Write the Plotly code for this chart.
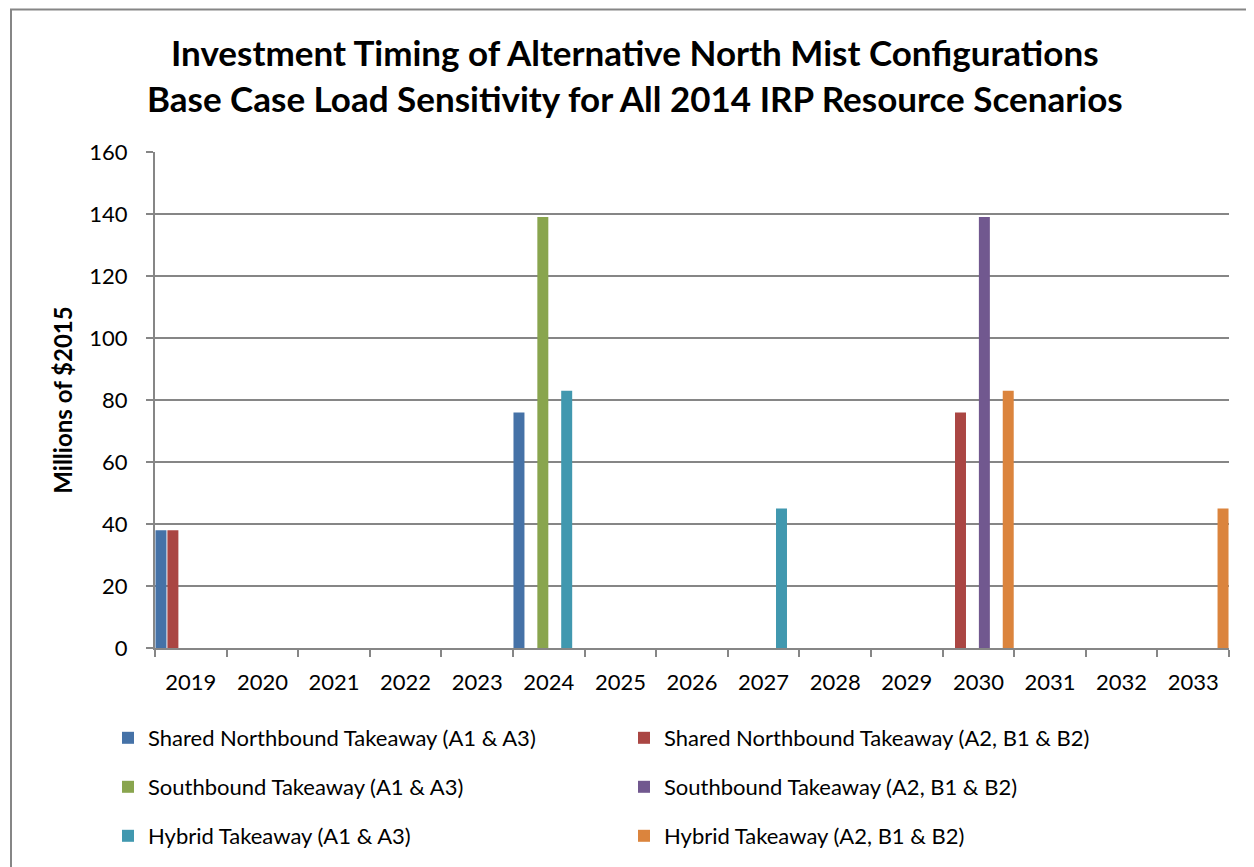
import plotly.graph_objects as go

years = [str(y) for y in range(2019, 2034)]
series_names = [
    "Shared Northbound Takeaway (A1 & A3)",
    "Shared Northbound Takeaway (A2, B1 & B2)",
    "Southbound Takeaway (A1 & A3)",
    "Southbound Takeaway (A2, B1 & B2)",
    "Hybrid Takeaway (A1 & A3)",
    "Hybrid Takeaway (A2, B1 & B2)",
]
shared_nb_a1 = [38, 0, 0, 0, 0, 76, 0, 0, 0, 0, 0, 0, 0, 0, 0]
shared_nb_a2 = [38, 0, 0, 0, 0, 0, 0, 0, 0, 0, 0, 76, 0, 0, 0]
south_a1 = [0, 0, 0, 0, 0, 139, 0, 0, 0, 0, 0, 0, 0, 0, 0]
south_a2 = [0, 0, 0, 0, 0, 0, 0, 0, 0, 0, 0, 139, 0, 0, 0]
hybrid_a1 = [0, 0, 0, 0, 0, 83, 0, 0, 45, 0, 0, 0, 0, 0, 0]
hybrid_a2 = [0, 0, 0, 0, 0, 0, 0, 0, 0, 0, 0, 83, 0, 0, 45]
colors = ["#4572A7", "#AA4643", "#89A54E", "#71588F", "#4198AF", "#DB843D"]

series_values = [shared_nb_a1, shared_nb_a2, south_a1, south_a2, hybrid_a1, hybrid_a2]
legend_ids = ["legend", "legend", "legend2", "legend2", "legend3", "legend3"]

FONT = "Lato"
fig = go.Figure()
for name, vals, col, lg in zip(series_names, series_values, colors, legend_ids):
    fig.add_trace(go.Bar(
        x=years, y=vals, name=name, legend=lg,
        marker=dict(color=col, line=dict(width=0)),
    ))

OFF = 8  # page body margin
W, H = 1254 - OFF, 867 - OFF
L, R, T, B = 155 - OFF, 1229 - OFF, 152 - OFF, 648 - OFF
pw, ph = R - L, B - T

def px_x(x):
    return (x - OFF - L) / pw

def px_y(y):
    return (B - (y - OFF)) / ph

leg_common = dict(orientation="h", xanchor="left", yanchor="middle",
                  entrywidth=471, entrywidthmode="pixels",
                  font=dict(family=FONT, size=22, color="#000000"),
                  bgcolor="rgba(0,0,0,0)", itemwidth=30, traceorder="normal")

fig.update_layout(
    width=W, height=H,
    margin=dict(l=L, r=W - R, t=T, b=H - B, pad=0, autoexpand=False),
    paper_bgcolor="white", plot_bgcolor="white",
    font=dict(family=FONT, size=22, color="#000000"),
    barmode="group", bargap=0, bargroupgap=0.08,
    showlegend=True,
    legend=dict(x=px_x(108), y=px_y(738), **leg_common),
    legend2=dict(x=px_x(108), y=px_y(787), **leg_common),
    legend3=dict(x=px_x(108), y=px_y(836), **leg_common),
    xaxis=dict(
        type="category", tickson="boundaries", ticks="outside", ticklen=7,
        tickcolor="#868686", tickwidth=2, showline=True, linecolor="#868686",
        linewidth=2, showgrid=False, ticklabelstandoff=14,
        tickfont=dict(family=FONT, size=22, color="#000000"),
    ),
    yaxis=dict(
        range=[0, 160], dtick=20, ticks="outside", ticklen=7,
        tickcolor="#868686", tickwidth=2, showline=True, linecolor="#868686",
        linewidth=2, showgrid=True, gridcolor="#868686", gridwidth=2,
        zeroline=False, ticklabelstandoff=14,
        tickfont=dict(family=FONT, size=22, color="#000000"),
        title=dict(text="<b>Millions of $2015</b>", standoff=10,
                   font=dict(family=FONT, size=24, color="#000000")),
    ),
    annotations=[
        dict(text="<b>Investment Timing of Alternative North Mist Configurations</b>",
             xref="paper", yref="paper", x=px_x(635), y=px_y(52),
             xanchor="center", yanchor="middle", showarrow=False,
             font=dict(family=FONT, size=35, color="#000000")),
        dict(text="<b>Base Case Load Sensitivity for All 2014 IRP Resource Scenarios</b>",
             xref="paper", yref="paper", x=px_x(635), y=px_y(98),
             xanchor="center", yanchor="middle", showarrow=False,
             font=dict(family=FONT, size=35, color="#000000")),
    ],
    shapes=[
        dict(type="rect", xref="paper", yref="paper",
             x0=px_x(11), x1=px_x(1275), y0=px_y(9.5), y1=px_y(890),
             line=dict(color="#868686", width=2), fillcolor="rgba(0,0,0,0)",
             layer="below"),
    ],
)

fig.write_html("out.html")
